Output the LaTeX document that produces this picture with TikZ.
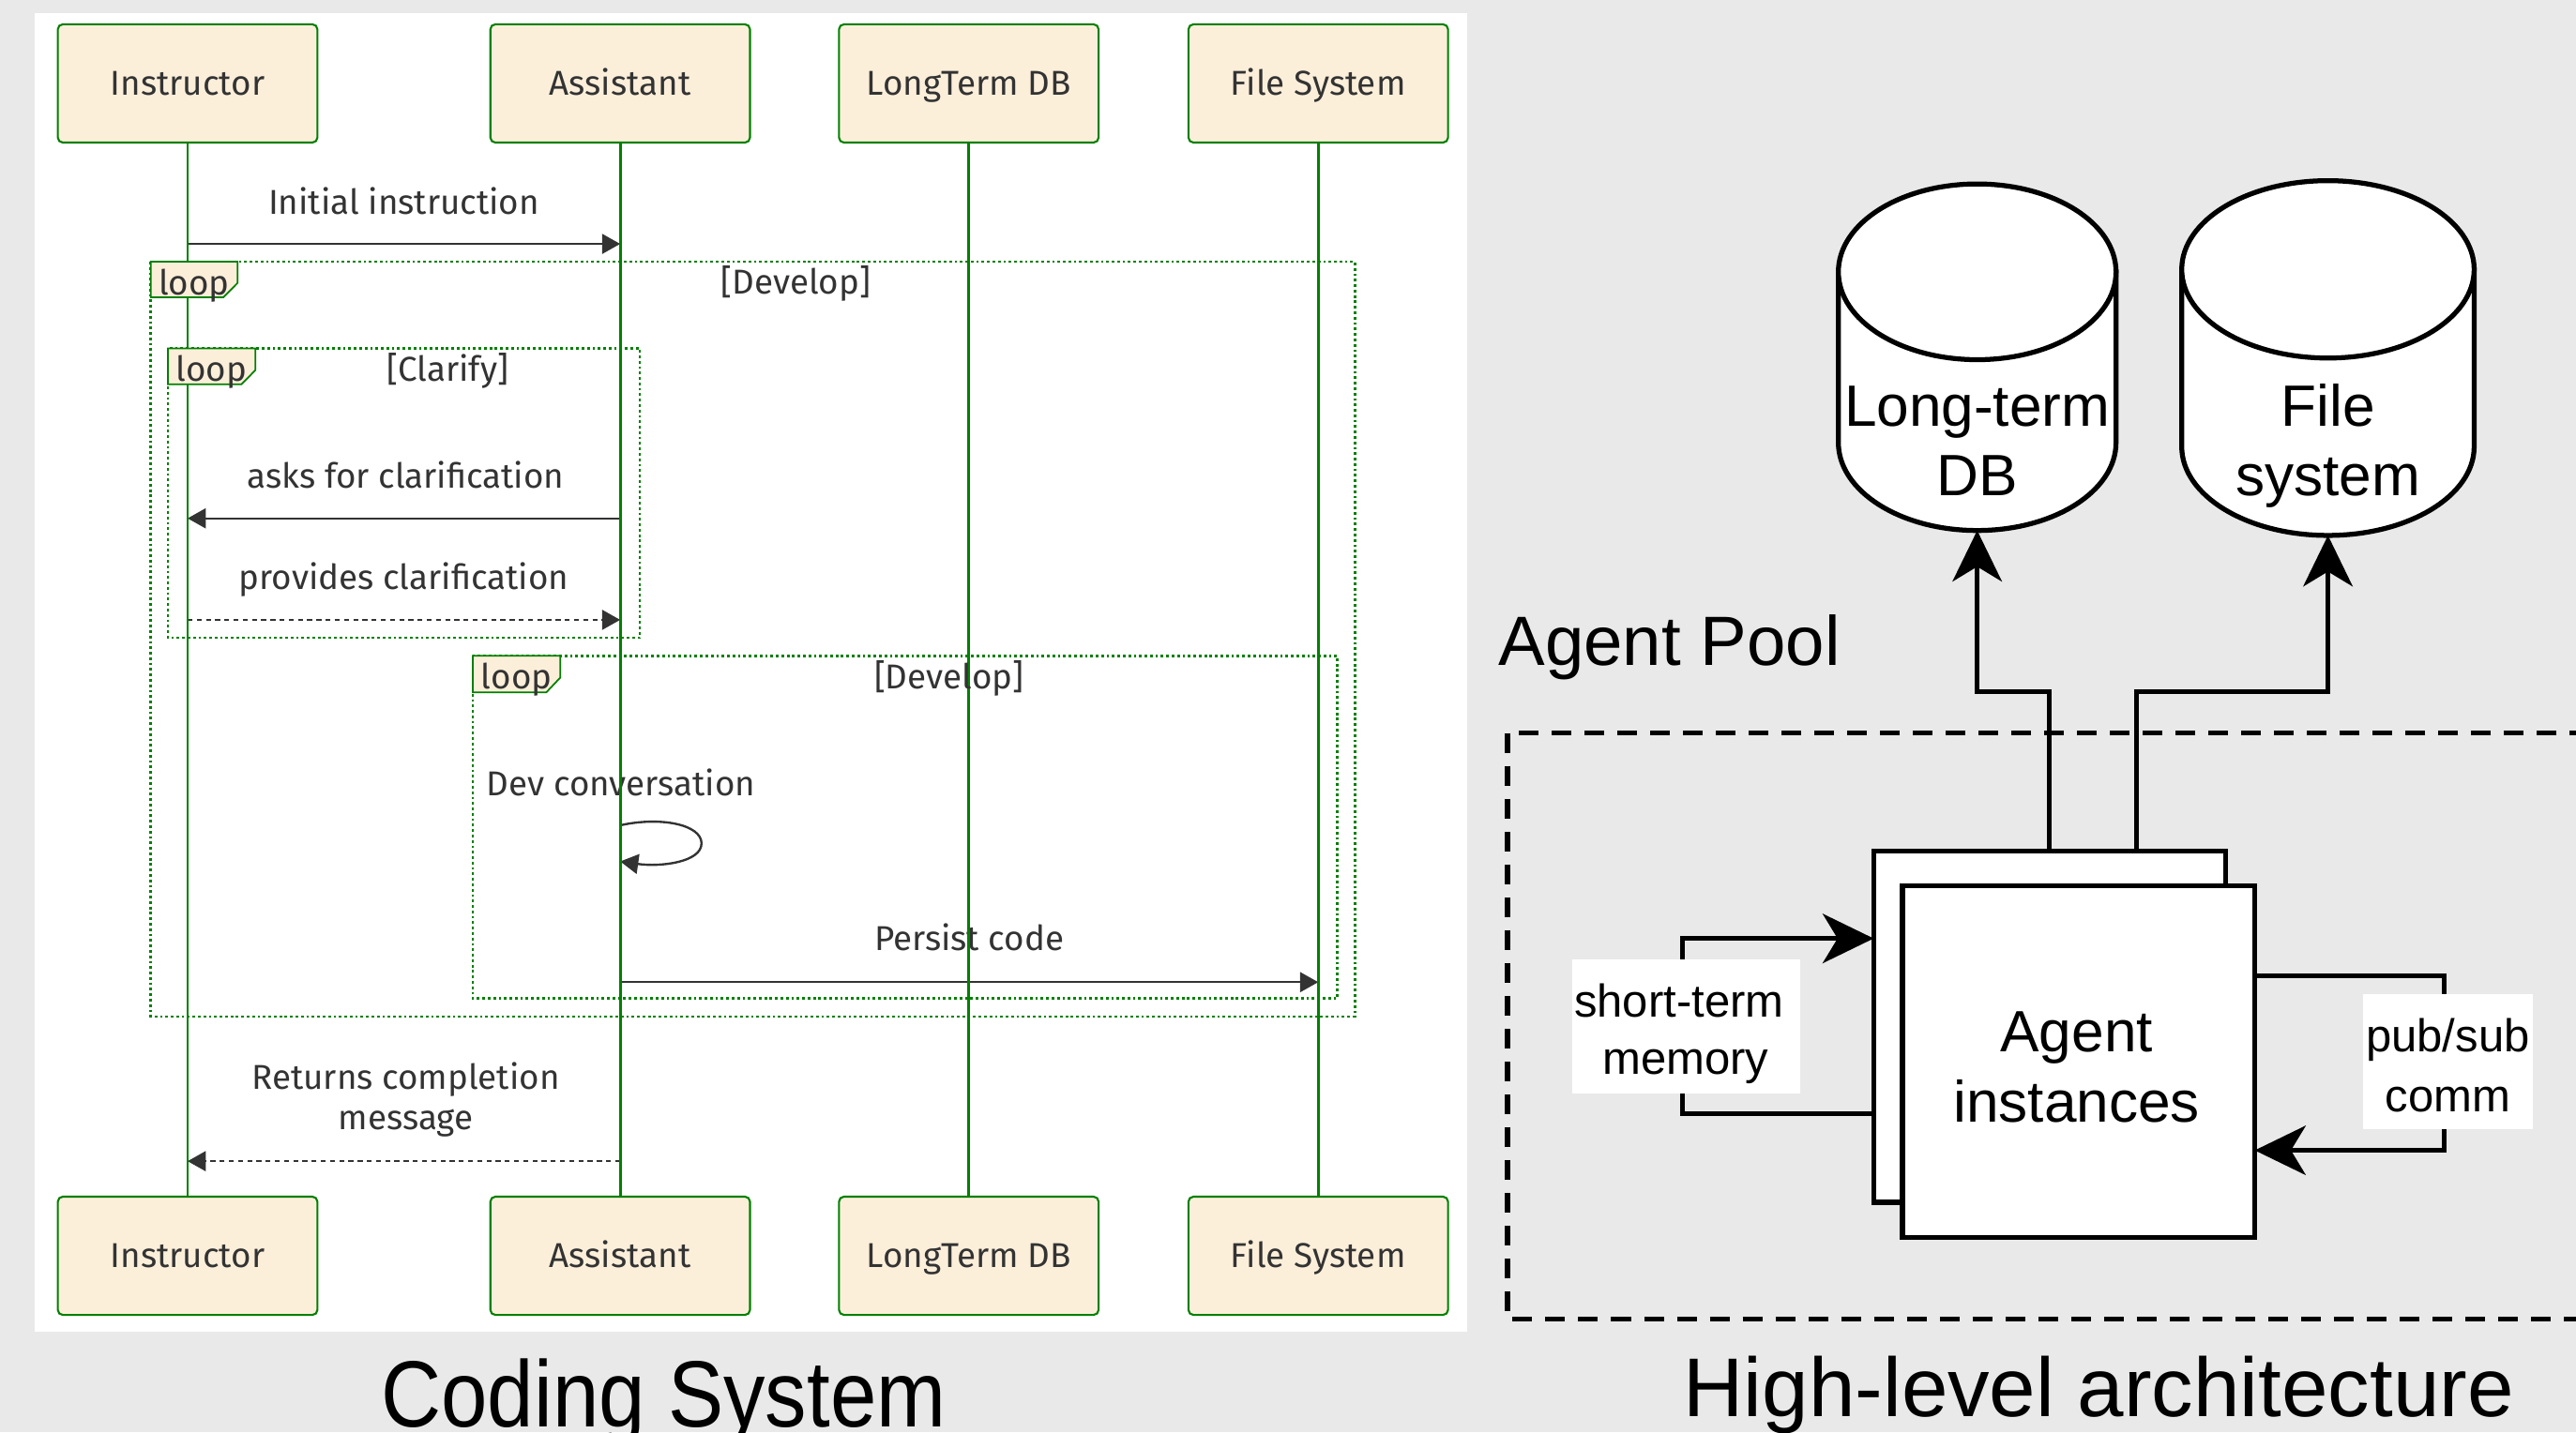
\documentclass[tikz,border=0pt]{standalone}
\usepackage{fontspec}
\setmainfont{Liberation Sans}
\newfontfamily\seqfont{Fira Sans}
\usetikzlibrary{arrows.meta,calc}
\definecolor{bggray}{RGB}{233,233,233}
\definecolor{actfill}{RGB}{252,239,218}
\definecolor{mgreen}{RGB}{0,128,0}
\definecolor{dtext}{RGB}{51,51,51}
\newcommand\drawcylinder[5]{% cx, ytop, ybottom, rx, ry
  \filldraw[cylline] ({#1-#4},{#2+#5}) -- ({#1-#4},{#3-#5})
    arc[start angle=180,end angle=360,x radius=#4pt,y radius=#5pt]
    -- ({#1+#4},{#2+#5}) -- cycle;
  \filldraw[cylline] (#1,{#2+#5}) ellipse[x radius=#4pt,y radius=#5pt];}
\begin{document}
\begin{tikzpicture}[x=1pt,y=-1pt,
  seqtxt/.style={font=\seqfont\fontsize{21}{25}\selectfont, text=dtext, inner sep=0pt, anchor=base},
  actor/.style={draw=mgreen, line width=1.2pt, fill=actfill, rounded corners=3pt,
     minimum width=158pt, minimum height=72pt, inner sep=0pt, outer sep=0pt,
     font=\seqfont\fontsize{21}{25}\selectfont, text=dtext, text height=14.5pt, text depth=0pt},
  lifeline/.style={draw=mgreen, line width=1.7pt},
  msg/.style={draw=dtext, line width=1.35pt, -{Triangle[length=11pt,width=12pt]}},
  rmsg/.style={msg, dash pattern=on 3pt off 2.6pt},
  frame/.style={draw=mgreen, line width=1.6pt, dash pattern=on 1.6pt off 1.7pt},
  tabbox/.style={draw=mgreen, line width=1pt, fill=actfill},
  cylline/.style={draw=black, fill=white, line width=3pt},
  anchorbox/.style={draw=none, inner sep=0pt, outer sep=0pt},
  abox/.style={draw=black, fill=white, line width=3pt, inner sep=0pt, outer sep=0pt},
  arch/.style={draw=black, line width=3pt},
  conn/.style={arch, -{Stealth[length=31pt,width=30pt,inset=9pt]}},
  pool/.style={draw=black, line width=3pt, dash pattern=on 12pt off 8pt},
  bigtxt/.style={font=\fontsize{35.5}{40}\selectfont, inner sep=0pt, anchor=base},
  smtxt/.style={font=\fontsize{28}{32}\selectfont, inner sep=0pt, anchor=base},
  lblbox/.style={draw=none, fill=white, inner sep=0pt, outer sep=0pt}
]
\useasboundingbox (0,0) rectangle (1568,872);
\clip (0,0) rectangle (1568,872);
\fill[bggray] (0,0) rectangle (1568,872);
\fill[white] (21.3,8) rectangle (893,810.8);

% ---------------- Coding System (sequence diagram) ----------------
% frames
\draw[frame] (91.8,159.3) rectangle (824.6,619);
\draw[frame] (102.2,212.2) rectangle (389.4,388.3);
\draw[frame] (287.8,399.3) rectangle (814,608);

% actors
\node[actor] (i1) at (114.2,50.8) {Instructor};
\node[actor] (a1) at (377.5,50.8) {Assistant};
\node[actor] (d1) at (589.7,50.8) {LongTerm DB};
\node[actor] (f1) at (802.4,50.8) {File System};
\node[actor] (i2) at (114.2,764.6) {Instructor};
\node[actor] (a2) at (377.5,764.6) {Assistant};
\node[actor] (d2) at (589.7,764.6) {LongTerm DB};
\node[actor] (f2) at (802.4,764.6) {File System};

% message labels
\node[seqtxt] (m1) at (245.8,130.4) {Initial instruction};
\node[seqtxt] (m2) at (247,297) {asks for clarification};
\node[seqtxt] (m3) at (245.8,358.8) {provides clarification};
\node[seqtxt] (m4) at (378,484.4) {Dev conversation};
\node[seqtxt] (m5) at (589.9,578.6) {Persist code};
\node[seqtxt] (m6a) at (247,663.5) {Returns completion};
\node[seqtxt] (m6b) at (247,687.5) {message};

% messages
\draw[msg] (i1.south |- 0,148.5) -- (a1.south |- 0,148.5);
\draw[msg] (a1.south |- 0,315.6) -- (i1.south |- 0,315.6);
\draw[rmsg] (i1.south |- 0,377.4) -- (a1.south |- 0,377.4);
\draw[msg] (a1.south |- 0,502.5) .. controls (402,497) and (427,502) .. (427,513.5)
   .. controls (427,525) and (402,528) .. (a1.south |- 0,524.5);
\draw[msg] (a1.south |- 0,598) -- (f1.south |- 0,598);
\draw[rmsg] (a1.south |- 0,707) -- (i1.south |- 0,707);

% lifelines
\draw[lifeline] (i1.south) -- (i2.north);
\draw[lifeline] (a1.south) -- (a2.north);
\draw[lifeline] (d1.south) -- (d2.north);
\draw[lifeline] (f1.south) -- (f2.north);

% loop tabs
\draw[tabbox] (91.8,159.3) -- (144.6,159.3) -- (144.6,172.3) -- (136,181) -- (91.8,181) -- cycle;
\draw[tabbox] (102.2,212.2) -- (155.5,212.2) -- (155.5,225.3) -- (147,234) -- (102.2,234) -- cycle;
\draw[tabbox] (287.8,399.3) -- (341,399.3) -- (341,412.6) -- (332.5,421.6) -- (287.8,421.6) -- cycle;
\node[seqtxt] (lp1) at (118.2,179.3) {loop};
\node[seqtxt] (lp2) at (128.8,232.2) {loop};
\node[seqtxt] (lp3) at (314.4,419.3) {loop};
\node[seqtxt] (c1) at (484.5,179) {[Develop]};
\node[seqtxt] (c2) at (272.5,232.2) {[Clarify]};
\node[seqtxt] (c3) at (577.7,419.3) {[Develop]};

\node[anchor=base, inner sep=0pt] (t1) at (404,869)
  {\fontsize{50.7}{55}\selectfont\scalebox{1}[1.13]{Coding System}};

% ---------------- High-level architecture ----------------
\draw[pool] (917.6,446.4) rectangle (1620,803.3);
\node[anchor=base west, inner sep=0pt, font=\fontsize{42.5}{46}\selectfont] (ap) at (912,405) {Agent Pool};

% cylinders
\drawcylinder{1203.5}{112}{323}{84.5}{53.5}
\drawcylinder{1417}{110}{326}{89}{54}
\node[anchorbox, minimum width=169pt, minimum height=211pt] (db) at (1203.5,217.5) {};
\node[anchorbox, minimum width=178pt, minimum height=216pt] (fs) at (1417,218) {};
\node[bigtxt] (db1) at (1203.5,259.3) {Long-term};
\node[bigtxt] (db2) at (1203.5,301.5) {DB};
\node[bigtxt] (fs1) at (1417,259.3) {File};
\node[bigtxt] (fs2) at (1417,301.5) {system};

% agent boxes
\node[abox, minimum width=214pt, minimum height=213.7pt] (ab) at (1247.5,625.2) {};
\draw[conn] (ab.north) -- ++(0,-97.3) -| (db.south);
\draw[conn] ([xshift=53pt]ab.north) -- ++(0,-97.3) -| (fs.south);
\draw[conn] ([yshift=-52.8pt]ab.west) -- ++(-116.4,0) |- ([yshift=53.8pt]ab.west);
\node[abox, minimum width=214.5pt, minimum height=214.2pt] (af) at (1265.2,646.3) {};
\draw[conn] ([yshift=52.3pt]af.east) -- ++(115.5,0) |- ([yshift=-54.1pt]af.east);
\node[bigtxt] (ag1) at (1264,640.5) {Agent};
\node[bigtxt] (ag2) at (1264,683.3) {instances};

% loop labels
\node[lblbox, minimum width=139pt, minimum height=82pt] (stm) at (1026.5,625) {};
\node[smtxt] (stm1) at (1022,619) {short-term};
\node[smtxt] (stm2) at (1026,654) {memory};
\node[lblbox, minimum width=103.3pt, minimum height=82pt] (psc) at (1490,646.5) {};
\node[smtxt] (psc1) at (1490,640.5) {pub/sub};
\node[smtxt] (psc2) at (1490,676.7) {comm};

\node[anchor=base, inner sep=0pt, font=\fontsize{50.8}{55}\selectfont] (t2) at (1277.5,862.6) {High-level architecture};
\end{tikzpicture}
\end{document}
